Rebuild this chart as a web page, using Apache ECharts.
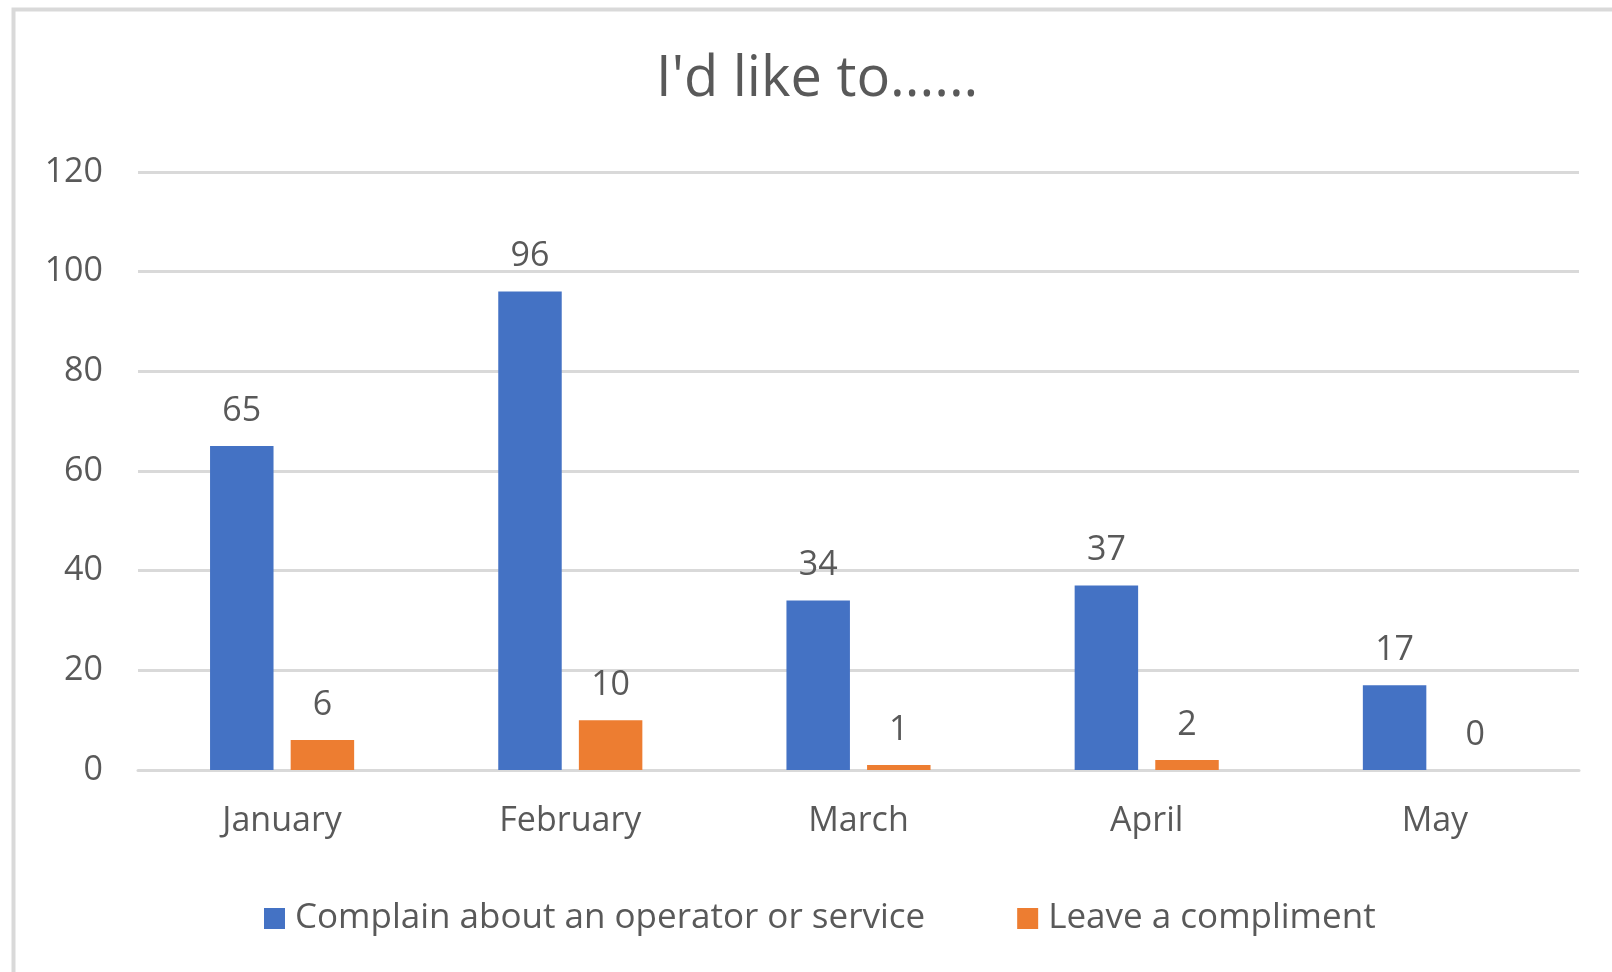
<!DOCTYPE html>
<html>
<head>
<meta charset="utf-8">
<script src="https://cdn.jsdelivr.net/npm/echarts@6/dist/echarts.min.js"></script>
<style>
html,body{margin:0;padding:0;background:#fff;}
#c{width:1612px;height:972px;}
</style>
</head>
<body>
<div id="c"></div>
<script>
const titleText = "I'd like to......";
const categories = ["January", "February", "March", "April", "May"];
const seriesNames = ["Complain about an operator or service", "Leave a compliment"];
const complainValues = [65, 96, 34, 37, 17];
const complimentValues = [6, 10, 1, 2, 0];
const yTicks = [0, 20, 40, 60, 80, 100, 120];

const FONT = "Open Sans";
const TEXT = "#595959";
const chart = echarts.init(document.getElementById('c'), null, {renderer: 'canvas'});
const labelStyle = {show: true, position: 'top', distance: 18, color: TEXT, fontFamily: FONT, fontSize: 34};
chart.setOption({
  backgroundColor: '#fff',
  animation: false,
  graphic: [{
    type: 'rect', left: 11, top: 7, z: -1,
    shape: {x: 0, y: 0, width: 1700, height: 1100},
    style: {fill: 'none', stroke: '#d9d9d9', lineWidth: 4}
  }],
  title: {
    text: titleText, left: 656, top: 52, padding: 0,
    textStyle: {fontFamily: FONT, fontSize: 56, fontWeight: 'normal', color: TEXT}
  },
  legend: {
    bottom: 36, left: 264, padding: 0,
    itemWidth: 21, itemHeight: 21, itemGap: 92,
    icon: 'rect',
    textStyle: {fontFamily: FONT, fontSize: 35, color: TEXT, padding: [0, 0, 0, 5]},
    data: seriesNames
  },
  grid: {left: 138, right: 33, top: 172, bottom: 202, containLabel: false},
  xAxis: {
    type: 'category', data: categories,
    axisLine: {lineStyle: {color: '#d9d9d9', width: 3}},
    axisTick: {show: false},
    axisLabel: {fontFamily: FONT, fontSize: 34, color: TEXT, margin: 34}
  },
  yAxis: {
    type: 'value', min: yTicks[0], max: yTicks[yTicks.length - 1], interval: 20,
    axisLine: {show: false}, axisTick: {show: false},
    axisLabel: {fontFamily: FONT, fontSize: 34, color: TEXT, margin: 35},
    splitLine: {lineStyle: {color: '#d9d9d9', width: 3}}
  },
  series: [
    {name: seriesNames[0], type: 'bar', data: complainValues, itemStyle: {color: '#4472C4'},
     barGap: '27%', barCategoryGap: '50%', label: labelStyle},
    {name: seriesNames[1], type: 'bar', data: complimentValues, itemStyle: {color: '#ED7D31'},
     barGap: '27%', barCategoryGap: '50%', label: labelStyle}
  ]
});
</script>
</body>
</html>
